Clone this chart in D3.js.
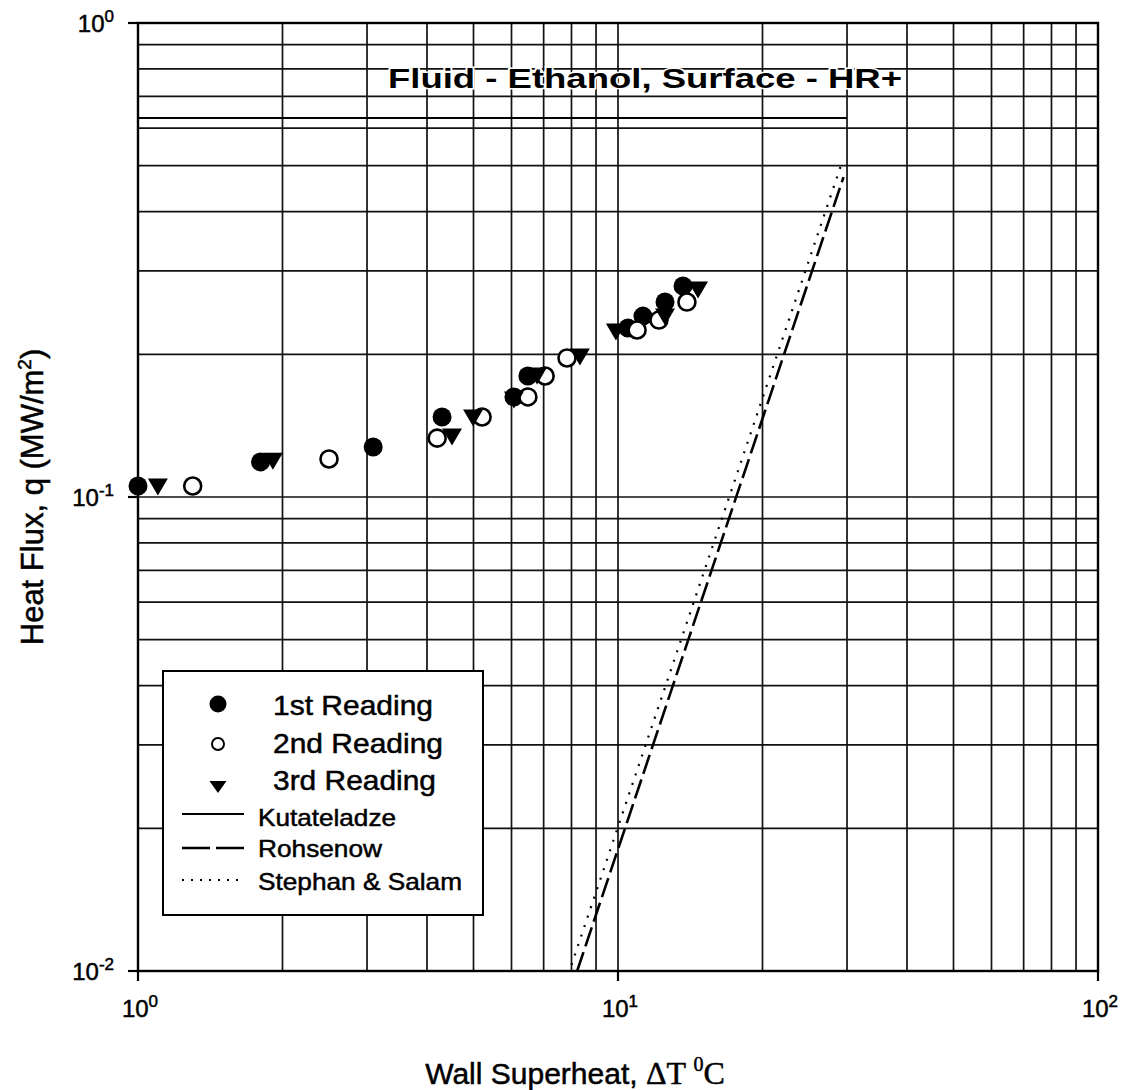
<!DOCTYPE html>
<html><head><meta charset="utf-8">
<script src="https://cdn.jsdelivr.net/npm/d3@7"></script>
<style>html,body{margin:0;padding:0;background:#fff;}svg{display:block;}</style>
</head><body>
<svg id="chart" width="1127" height="1090"></svg>
<script>
// ---- data ----
const reading1DT = [1.00, 1.80, 3.09, 4.30, 6.07, 6.49, 10.49, 11.27, 12.53, 13.66];
const reading1Q  = [0.1055, 0.1186, 0.1275, 0.1475, 0.1626, 0.180, 0.2273, 0.2408, 0.2578, 0.2787];
const reading2DT = [1.30, 2.50, 4.20, 5.21, 6.49, 7.05, 7.83, 10.96, 12.17, 13.92];
const reading2Q  = [0.1055, 0.1203, 0.1331, 0.1475, 0.1626, 0.180, 0.1965, 0.2251, 0.2362, 0.2578];
const reading3DT = [1.10, 1.91, 4.51, 4.99, 6.07, 6.78, 8.33, 9.90, 12.53, 14.68];
const reading3Q  = [0.1050, 0.1190, 0.1338, 0.1468, 0.1602, 0.180, 0.1975, 0.2229, 0.2398, 0.2733];
const kutateladzeDT = [1, 30];
const kutateladzeQ  = [0.63, 0.63];
const rohsenowDT = [8.22, 29.5];
const rohsenowQ  = [0.01, 0.473];
const stephanDT = [8.0, 29.3];
const stephanQ  = [0.0103, 0.509];
const xTickValues = [1, 10, 100];
const xTickExps = ["0", "1", "2"];
const yTickValues = [1, 0.1, 0.01];
const yTickExps = ["0", "-1", "-2"];
const legendLabels = ["1st Reading", "2nd Reading", "3rd Reading", "Kutateladze", "Rohsenow", "Stephan & Salam"];
const titleText = "Fluid - Ethanol, Surface - HR+";

// ---- layout ----
const svg = d3.select("#chart");
const FONT = "'Liberation Sans', Arial, sans-serif";
const SERIF = "'Liberation Serif', 'Times New Roman', serif";
const x = d3.scaleLog().domain([1, 100]).range([138, 1098]);
const y = d3.scaleLog().domain([0.01, 1]).range([971, 23]);

// grid
const g = svg.append("g");
g.selectAll("line.vg").data(x.ticks()).enter().append("line")
  .attr("x1", d => x(d)).attr("x2", d => x(d)).attr("y1", y(1)).attr("y2", y(0.01))
  .attr("stroke", "#111").attr("stroke-width", 1.7);
g.selectAll("line.hg").data(y.ticks()).enter().append("line")
  .attr("y1", d => y(d)).attr("y2", d => y(d)).attr("x1", x(1)).attr("x2", x(100))
  .attr("stroke", "#111").attr("stroke-width", 1.7);

// frame
svg.append("rect").attr("x", x(1)).attr("y", y(1)).attr("width", x(100) - x(1)).attr("height", y(0.01) - y(1))
  .attr("fill", "none").attr("stroke", "#000").attr("stroke-width", 2.4);

// major ticks
svg.selectAll("line.xt").data(xTickValues).enter().append("line")
  .attr("x1", d => x(d)).attr("x2", d => x(d)).attr("y1", y(0.01)).attr("y2", y(0.01) + 10)
  .attr("stroke", "#000").attr("stroke-width", 2.2);
svg.selectAll("line.yt").data(yTickValues).enter().append("line")
  .attr("y1", d => y(d)).attr("y2", d => y(d)).attr("x1", x(1) - 10).attr("x2", x(1))
  .attr("stroke", "#000").attr("stroke-width", 2.2);

// text thickening helper (scanned look)
const ink = sel => sel.attr("fill", "#000").attr("stroke", "#000").attr("stroke-width", 0.5);

// tick labels
xTickValues.forEach((v, i) => {
  const t = svg.append("text").attr("x", x(v) + 2).attr("y", 1017).attr("text-anchor", "middle")
    .attr("font-family", FONT).attr("font-size", 24).call(ink);
  t.append("tspan").text("10");
  t.append("tspan").attr("dy", -10).attr("font-size", 17).text(xTickExps[i]);
});
yTickValues.forEach((v, i) => {
  const t = svg.append("text").attr("x", 114).attr("y", y(v) + 9).attr("text-anchor", "end")
    .attr("font-family", FONT).attr("font-size", 24).call(ink);
  t.append("tspan").text("10");
  t.append("tspan").attr("dy", -10).attr("font-size", 17).text(yTickExps[i]);
});

// title
svg.append("text").attr("x", 388).attr("y", 88).attr("font-family", FONT).attr("font-weight", "bold")
  .attr("font-size", 28).attr("textLength", 514).attr("lengthAdjust", "spacingAndGlyphs")
  .attr("stroke", "#fff").attr("stroke-width", 3).attr("paint-order", "stroke")
  .text(titleText);

// correlation lines
const line = d3.line().x(d => x(d[0])).y(d => y(d[1]));
const pairs = (a, b) => a.map((v, i) => [v, b[i]]);
svg.append("path").attr("d", line(pairs(kutateladzeDT, kutateladzeQ))).attr("fill", "none")
  .attr("stroke", "#000").attr("stroke-width", 2);
svg.append("path").attr("d", line(pairs(rohsenowDT, rohsenowQ))).attr("fill", "none")
  .attr("stroke", "#000").attr("stroke-width", 2.6).attr("stroke-dasharray", "20,6");
svg.append("path").attr("d", line(pairs(stephanDT, stephanQ))).attr("fill", "none")
  .attr("stroke", "#000").attr("stroke-width", 2.2).attr("stroke-dasharray", "2,8");

// markers
const tri = (cx, cy, w, h) => `M${cx - w / 2},${cy - h / 2}L${cx + w / 2},${cy - h / 2}L${cx},${cy + h / 2}Z`;
svg.append("g").selectAll("circle").data(pairs(reading1DT, reading1Q)).enter().append("circle")
  .attr("cx", d => x(d[0])).attr("cy", d => y(d[1])).attr("r", 9.5).attr("fill", "#000");
svg.append("g").selectAll("circle").data(pairs(reading2DT, reading2Q)).enter().append("circle")
  .attr("cx", d => x(d[0])).attr("cy", d => y(d[1])).attr("r", 8.5).attr("fill", "#fff")
  .attr("stroke", "#000").attr("stroke-width", 2.6);
svg.append("g").selectAll("path").data(pairs(reading3DT, reading3Q)).enter().append("path")
  .attr("d", d => tri(x(d[0]), y(d[1]), 20, 17)).attr("fill", "#000");

// legend
const lg = svg.append("g");
lg.append("rect").attr("x", 163).attr("y", 671).attr("width", 320).attr("height", 244)
  .attr("fill", "#fff").attr("stroke", "#000").attr("stroke-width", 2);
lg.append("circle").attr("cx", 218).attr("cy", 704).attr("r", 8.5).attr("fill", "#000");
lg.append("circle").attr("cx", 218).attr("cy", 744).attr("r", 6).attr("fill", "#fff").attr("stroke", "#000").attr("stroke-width", 2);
lg.append("path").attr("d", tri(218, 787, 17, 12)).attr("fill", "#000");
const bigY = [715, 753, 790];
[0, 1, 2].forEach(i => {
  lg.append("text").attr("x", 273).attr("y", bigY[i]).attr("font-family", FONT).attr("font-size", 28)
    .attr("textLength", [160, 170, 163][i]).attr("lengthAdjust", "spacingAndGlyphs").call(ink).text(legendLabels[i]);
});
const lineY = [814, 848, 880];
const dashes = [null, "28,6", "2,7"];
const widths = [2, 2.6, 1.8];
[0, 1, 2].forEach(i => {
  const l = lg.append("line").attr("x1", 182).attr("x2", 244).attr("y1", lineY[i]).attr("y2", lineY[i])
    .attr("stroke", "#000").attr("stroke-width", widths[i]);
  if (dashes[i]) l.attr("stroke-dasharray", dashes[i]);
  lg.append("text").attr("x", 258).attr("y", [826, 857, 890][i]).attr("font-family", FONT).attr("font-size", 24)
    .attr("textLength", [138, 124, 204][i]).attr("lengthAdjust", "spacingAndGlyphs").call(ink).text(legendLabels[i + 3]);
});

// axis titles
const xt = svg.append("text").attr("x", 575).attr("y", 1084).attr("text-anchor", "middle")
  .attr("font-family", FONT).attr("font-size", 30).call(ink);
xt.append("tspan").text("Wall Superheat, ");
xt.append("tspan").attr("font-family", SERIF).attr("font-size", 32).text("\u0394T ");
xt.append("tspan").attr("font-family", SERIF).attr("font-size", 20).attr("dy", -13).text("0");
xt.append("tspan").attr("font-family", SERIF).attr("font-size", 32).attr("dy", 13).text("C");

const yt = svg.append("text").attr("transform", "translate(43,497) rotate(-90)").attr("text-anchor", "middle")
  .attr("font-family", FONT).attr("font-size", 31).call(ink);
yt.append("tspan").text("Heat Flux, q (MW/m");
yt.append("tspan").attr("font-size", 19).attr("dy", -12).text("2");
yt.append("tspan").attr("dy", 12).text(")");
</script>
</body></html>
